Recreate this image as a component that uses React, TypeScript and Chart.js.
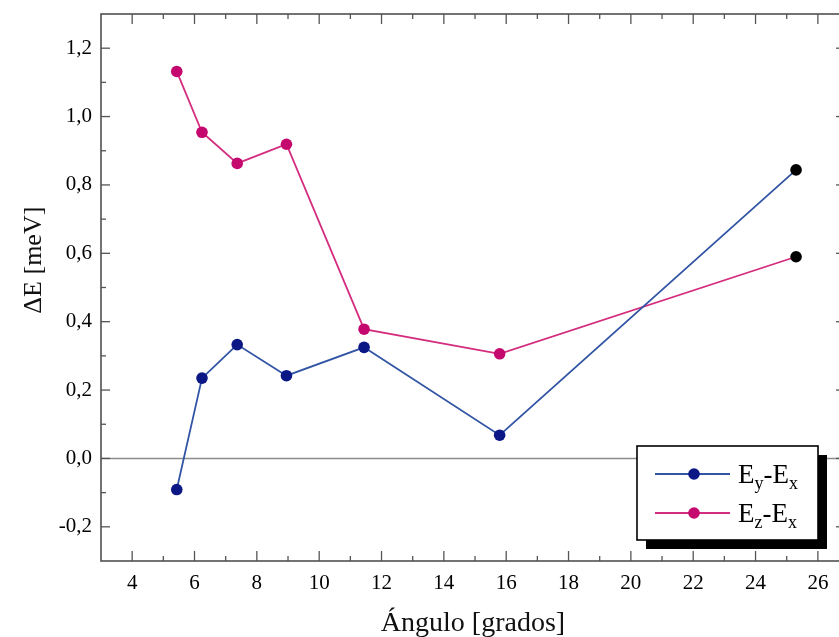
import React, { useEffect, useRef } from "react";
import { Chart, registerables } from "chart.js";

Chart.register(...registerables);

// ---- data ----
const ANGLES = [5.43, 6.24, 7.37, 8.95, 11.44, 15.79, 25.3];
const EY_EX = [-0.091, 0.235, 0.333, 0.242, 0.325, 0.068, 0.844];
const EZ_EX = [1.132, 0.954, 0.863, 0.919, 0.378, 0.306, 0.59];

const X_MIN = 3;
const X_MAX = 26.87;
const Y_MIN = -0.3;
const Y_MAX = 1.3;
const X_TICKS = [4, 6, 8, 10, 12, 14, 16, 18, 20, 22, 24, 26];
const X_MINOR = [5, 7, 9, 11, 13, 15, 17, 19, 21, 23, 25];
const Y_TICKS = [-0.2, 0, 0.2, 0.4, 0.6, 0.8, 1.0, 1.2];
const Y_MINOR = [-0.1, 0.1, 0.3, 0.5, 0.7, 0.9, 1.1];

const SERIES_LABELS = ["Ey-Ex", "Ez-Ex"];
// legend text pieces: [text, isSubscript]
const LEGEND_PARTS: [string, boolean][][] = [
  [["E", false], ["y", true], ["-E", false], ["x", true]],
  [["E", false], ["z", true], ["-E", false], ["x", true]],
];
const X_TITLE = "Ángulo [grados]";
const Y_TITLE = "ΔE [meV]";

const LINE_COLORS = ["#3155a4", "#d42c7e"];
const POINT_COLORS = ["#0b1784", "#c4086e"];
const LAST_POINT_COLOR = "#000000";

const SERIF = '"Liberation Serif", "DejaVu Serif", serif';

const fmt = (v: number) => v.toFixed(1).replace(".", ",");

const decorPlugin = {
  id: "decor",
  beforeDatasetsDraw(chart: any) {
    const { ctx, chartArea: a, scales } = chart;
    const x = scales.x;
    const y = scales.y;
    ctx.save();
    // zero line
    const y0 = y.getPixelForValue(0);
    ctx.strokeStyle = "#8c8c8c";
    ctx.lineWidth = 1.6;
    ctx.beginPath();
    ctx.moveTo(a.left, y0);
    ctx.lineTo(a.right, y0);
    ctx.stroke();

    ctx.strokeStyle = "#555555";
    ctx.lineWidth = 1.3;
    const seg = (x1: number, y1: number, x2: number, y2: number) => {
      ctx.beginPath();
      ctx.moveTo(x1, y1);
      ctx.lineTo(x2, y2);
      ctx.stroke();
    };
    X_TICKS.forEach((v) => {
      const p = x.getPixelForValue(v);
      seg(p, a.bottom, p, a.bottom - 10);
      seg(p, a.top, p, a.top + 10);
    });
    X_MINOR.forEach((v) => {
      const p = x.getPixelForValue(v);
      seg(p, a.bottom, p, a.bottom - 5);
      seg(p, a.top, p, a.top + 5);
    });
    Y_TICKS.forEach((v) => {
      const p = y.getPixelForValue(v);
      seg(a.left, p, a.left + 9, p);
      seg(a.right, p, a.right - 9, p);
    });
    Y_MINOR.forEach((v) => {
      const p = y.getPixelForValue(v);
      seg(a.left, p, a.left + 5, p);
      seg(a.right, p, a.right - 5, p);
    });
    ctx.lineWidth = 1.6;
    ctx.strokeStyle = "#505050";
    ctx.strokeRect(a.left, a.top, a.right - a.left, a.bottom - a.top);

    // y-axis title (placed somewhat above the axis middle, as in the original)
    ctx.save();
    ctx.translate(34, y.getPixelForValue(0.58));
    ctx.rotate(-Math.PI / 2);
    ctx.font = "26px " + SERIF;
    ctx.fillStyle = "#111";
    ctx.textAlign = "center";
    ctx.textBaseline = "middle";
    ctx.fillText(Y_TITLE, 0, 0);
    ctx.restore();
    ctx.restore();
  },
  afterDatasetsDraw(chart: any) {
    const { ctx, chartArea: a } = chart;
    const bw = 181;
    const bh = 94;
    const bx = a.right - 208;
    const by = a.bottom - 115;
    ctx.save();
    ctx.fillStyle = "#000";
    ctx.fillRect(bx + 9, by + 9, bw, bh);
    ctx.fillStyle = "#fff";
    ctx.fillRect(bx, by, bw, bh);
    ctx.strokeStyle = "#000";
    ctx.lineWidth = 1.6;
    ctx.strokeRect(bx, by, bw, bh);

    LEGEND_PARTS.forEach((parts, i) => {
      const cy = by + 28 + i * 39;
      ctx.strokeStyle = LINE_COLORS[i];
      ctx.lineWidth = 1.8;
      ctx.beginPath();
      ctx.moveTo(bx + 18, cy);
      ctx.lineTo(bx + 93, cy);
      ctx.stroke();
      ctx.fillStyle = POINT_COLORS[i];
      ctx.beginPath();
      ctx.arc(bx + 57, cy, 5.8, 0, Math.PI * 2);
      ctx.fill();

      let tx = bx + 101;
      ctx.fillStyle = "#000";
      ctx.textBaseline = "alphabetic";
      ctx.textAlign = "left";
      parts.forEach(([t, sub]) => {
        ctx.font = (sub ? "18px " : "27px ") + SERIF;
        ctx.fillText(t, tx, cy + (sub ? 15 : 9));
        tx += ctx.measureText(t).width;
      });
    });
    ctx.restore();
  },
};

export default function App() {
  const ref = useRef<HTMLCanvasElement | null>(null);

  useEffect(() => {
    if (!ref.current) return;
    const mk = (vals: number[]) => ANGLES.map((a, i) => ({ x: a, y: vals[i] }));
    const ptColors = (c: string) => ANGLES.map((_, i) => (i === ANGLES.length - 1 ? LAST_POINT_COLOR : c));
    const chart = new Chart(ref.current, {
      type: "line",
      data: {
        datasets: [EY_EX, EZ_EX].map((vals, i) => ({
          label: SERIES_LABELS[i],
          data: mk(vals),
          borderColor: LINE_COLORS[i],
          borderWidth: 1.8,
          backgroundColor: POINT_COLORS[i],
          pointBackgroundColor: ptColors(POINT_COLORS[i]),
          pointBorderColor: ptColors(POINT_COLORS[i]),
          pointBorderWidth: 0,
          pointRadius: 5.8,
          tension: 0,
          fill: false,
        })),
      },
      options: {
        animation: false,
        responsive: false,
        maintainAspectRatio: false,
        devicePixelRatio: 1,
        layout: { autoPadding: false, padding: { left: 0, top: 14, right: 15, bottom: 0 } },
        plugins: { legend: { display: false }, tooltip: { enabled: false } },
        scales: {
          x: {
            type: "linear",
            min: X_MIN,
            max: X_MAX,
            afterBuildTicks: (s: any) => {
              s.ticks = X_TICKS.map((v) => ({ value: v }));
            },
            afterFit: (s: any) => {
              s.height = 76;
              s.paddingLeft = 0;
              s.paddingRight = 0;
              s.paddingTop = 0;
              s.paddingBottom = 0;
            },
            grid: { display: false, drawTicks: false },
            border: { display: false },
            ticks: {
              autoSkip: false,
              maxRotation: 0,
              padding: 10,
              color: "#000",
              font: { family: SERIF, size: 21 },
              callback: (v: any) => String(v),
            },
            title: {
              display: true,
              text: X_TITLE,
              color: "#111",
              font: { family: SERIF, size: 28 },
              padding: { top: 0, bottom: -3 },
            },
          },
          y: {
            type: "linear",
            min: Y_MIN,
            max: Y_MAX,
            afterBuildTicks: (s: any) => {
              s.ticks = Y_TICKS.map((v) => ({ value: v }));
            },
            afterFit: (s: any) => {
              s.width = 101;
              s.paddingLeft = 0;
              s.paddingRight = 0;
              s.paddingTop = 0;
              s.paddingBottom = 0;
            },
            grid: { display: false, drawTicks: false },
            border: { display: false },
            ticks: {
              autoSkip: false,
              padding: 9,
              color: "#000",
              font: { family: SERIF, size: 21 },
              callback: (v: any) => fmt(Number(v)),
            },
            title: { display: false, text: Y_TITLE },
          },
        },
      },
      plugins: [decorPlugin],
    });
    return () => chart.destroy();
  }, []);

  return (
    <div
      style={{
        position: "fixed",
        left: 0,
        top: 0,
        width: 839,
        height: 637,
        overflow: "hidden",
        background: "#fff",
      }}
    >
      <canvas ref={ref} width={860} height={637} style={{ display: "block", width: 860, height: 637 }} />
    </div>
  );
}
